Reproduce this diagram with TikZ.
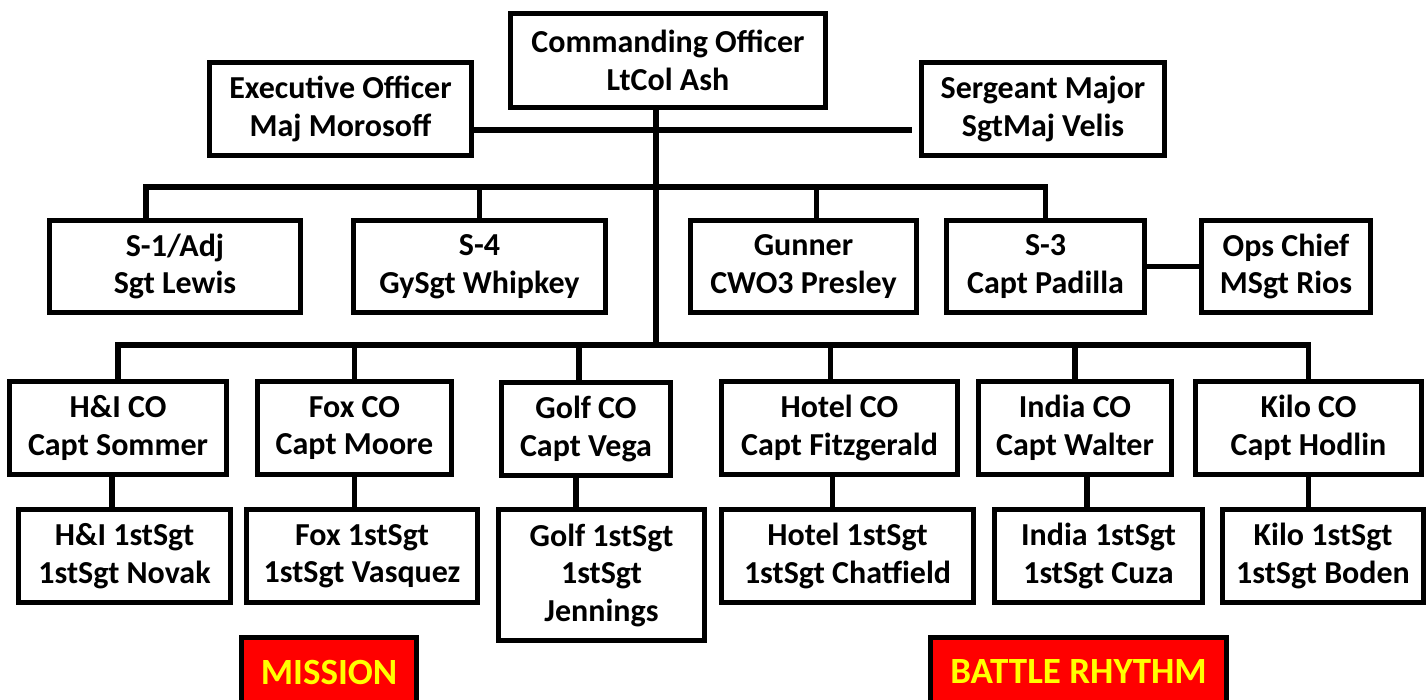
\documentclass[tikz,border=0pt]{standalone}
\usepackage{fontspec}
\setmainfont{Carlito}
\usepackage{tikz}
\usetikzlibrary{calc,positioning,backgrounds}

\definecolor{flagred}{RGB}{255,0,0}
\definecolor{flagyellow}{RGB}{255,255,0}

\tikzset{
  billet/.style={draw,line width=5pt,fill=white,align=center,inner sep=0pt,
    font=\fontsize{32}{37.5}\selectfont\bfseries,minimum height=93pt},
  banner/.style={billet,fill=flagred,text=flagyellow,minimum height=70pt,
    font=\fontsize{37}{40}\selectfont\bfseries},
  wire/.style={line width=5.5pt}
}

\begin{document}
\begin{tikzpicture}[x=1pt,y=-1pt]
  \useasboundingbox (0,0) rectangle (1428,700);
  % command group
  \node[billet,minimum width=315pt,minimum height=94pt] (co) at (668,60.5) {Commanding Officer\\LtCol Ash};
  \node[billet,minimum width=262pt] (xo) at (340.5,109) {Executive Officer\\Maj Morosoff};
  \node[billet,minimum width=243pt] (sgm) at (1043,109) {Sergeant Major\\SgtMaj Velis};
  % staff
  \node[billet,minimum width=251pt,minimum height=92pt] (s1) at (175,266.5) {S-1/Adj\\Sgt Lewis};
  \node[billet,minimum width=252pt,minimum height=92pt] (s4) at (479.5,266.5) {S-4\\GySgt Whipkey};
  \node[billet,minimum width=226pt,minimum height=92pt] (gun) at (803.5,266.5) {Gunner\\CWO3 Presley};
  \node[billet,minimum width=198pt,minimum height=92pt] (s3) at (1045.5,266.5) {S-3\\Capt Padilla};
  \node[billet,minimum width=169pt,minimum height=92pt] (ops) at (1286,266.5) {Ops Chief\\MSgt Rios};
  % companies
  \node[billet,minimum width=217pt] (hiCO) at (118,428) {H\&I CO\\Capt Sommer};
  \node[billet,minimum width=194pt] (foxCO) at (354.5,428) {Fox CO\\Capt Moore};
  \node[billet,minimum width=169pt] (golfCO) at (586,429) {Golf CO\\Capt Vega};
  \node[billet,minimum width=236pt] (hotelCO) at (839.5,428) {Hotel CO\\Capt Fitzgerald};
  \node[billet,minimum width=193pt] (indiaCO) at (1075,428) {India CO\\Capt Walter};
  \node[billet,minimum width=226pt] (kiloCO) at (1308.5,428) {Kilo CO\\Capt Hodlin};
  % first sergeants
  \node[billet,minimum width=212pt] (hiSgt) at (124.5,556) {H\&I 1stSgt\\1stSgt Novak};
  \node[billet,minimum width=231pt] (foxSgt) at (362,556) {Fox 1stSgt\\1stSgt Vasquez};
  \node[billet,minimum width=206pt,minimum height=131pt] (golfSgt) at (601.5,575) {Golf 1stSgt\\1stSgt\\Jennings};
  \node[billet,minimum width=252pt] (hotelSgt) at (847.5,556) {Hotel 1stSgt\\1stSgt Chatfield};
  \node[billet,minimum width=208pt] (indiaSgt) at (1098.5,556) {India 1stSgt\\1stSgt Cuza};
  \node[billet,minimum width=201pt] (kiloSgt) at (1323,556) {Kilo 1stSgt\\1stSgt Boden};
  % banners
  \node[banner,minimum width=175pt] (mission) at (329,672) {MISSION};
  \node[banner,minimum width=296pt] (rhythm) at (1078.5,672) {BATTLE RHYTHM};

  \coordinate (sbus) at (656,187);
  \coordinate (cbus) at (656,345);
  \begin{scope}[on background layer]
    \draw[wire] (co.south -| cbus) -- (cbus);
    \draw[wire] ([yshift=-21pt]xo.east) -- ([xshift=-7pt,yshift=-21pt]sgm.west);
    \draw[wire] ([xshift=-29pt]s1.north) |- (sbus) -| (s3.north);
    \draw[wire] (s4.north) -- (s4.north |- sbus);
    \draw[wire] ([xshift=13pt]gun.north) -- ([xshift=13pt]gun.north |- sbus);
    \draw[wire] (s3.east) -- (ops.west);
    \draw[wire] (hiCO.north) |- (cbus) -| (kiloCO.north);
    \draw[wire] (foxCO.north) -- (foxCO.north |- cbus);
    \draw[wire] ([xshift=-7pt]golfCO.north) -- ([xshift=-7pt]golfCO.north |- cbus);
    \draw[wire] ([xshift=-9pt]hotelCO.north) -- ([xshift=-9pt]hotelCO.north |- cbus);
    \draw[wire] (indiaCO.north) -- (indiaCO.north |- cbus);
    \draw[wire] ([xshift=-6pt]hiCO.south) -- ([xshift=-6pt]hiCO.south |- hiSgt.north);
    \draw[wire] (foxCO.south) -- (foxCO.south |- foxSgt.north);
    \draw[wire] ([xshift=-10pt]golfCO.south) -- ([xshift=-10pt]golfCO.south |- golfSgt.north);
    \draw[wire] ([xshift=-7pt]hotelCO.south) -- ([xshift=-7pt]hotelCO.south |- hotelSgt.north);
    \draw[wire] ([xshift=12pt]indiaCO.south) -- ([xshift=12pt]indiaCO.south |- indiaSgt.north);
    \draw[wire] (kiloCO.south) -- (kiloCO.south |- kiloSgt.north);
  \end{scope}
\end{tikzpicture}
\end{document}
